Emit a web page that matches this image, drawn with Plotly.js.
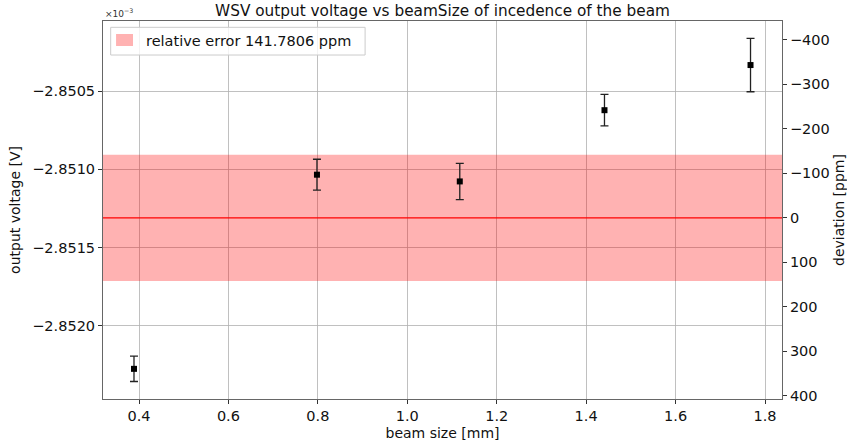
<!DOCTYPE html>
<html><head><meta charset="utf-8">
<script src="https://cdn.plot.ly/plotly-3.0.1.min.js"></script>
<style>body{margin:0;background:#fff}#c{width:847px;height:444px}</style>
</head><body><div id="c"></div>
<script>
// data (voltage in units of 1e-3 V)
const beamSize = [0.3888, 0.798, 1.1174, 1.441, 1.7676];
const voltage = [-2.852277, -2.851034, -2.851077, -2.850621, -2.850332];
const voltErr = [0.000081, 0.000099, 0.000116, 0.000101, 0.000171];
const meanVoltage = -2.85131;
const relErrPpm = 141.7806;
const xRange = [0.3195, 1.838];
const yRange = [-2.85247, -2.85005];
const yTicks = [-2.8520, -2.8515, -2.8510, -2.8505];
const ppmTicks = [-400, -300, -200, -100, 0, 100, 200, 300, 400];

const toPpm = v => (v - meanVoltage) / meanVoltage * 1e6;
const bandLo = meanVoltage * (1 - relErrPpm * 1e-6);
const bandHi = meanVoltage * (1 + relErrPpm * 1e-6);
const font = 'DejaVu Sans, sans-serif';
const fs = 14.5;
const bandColor = 'rgba(255,0,0,0.3)';

const traces = [
  {x: [xRange[0], xRange[1], xRange[1], xRange[0], xRange[0]],
   y: [bandLo, bandLo, bandHi, bandHi, bandLo],
   type: 'scatter', mode: 'none', fill: 'toself', fillcolor: bandColor,
   name: 'relative error ' + relErrPpm + ' ppm', hoverinfo: 'skip', showlegend: false},
  {x: xRange, y: [meanVoltage, meanVoltage], type: 'scatter', mode: 'lines',
   line: {color: 'red', width: 1.2}, showlegend: false},
  {x: beamSize, y: voltage, type: 'scatter', mode: 'markers',
   marker: {symbol: 'square', size: 6, color: 'black'},
   error_y: {type: 'data', array: voltErr, visible: true, color: '#222', thickness: 1.3, width: 4},
   showlegend: false},
  {x: [xRange[0]], y: [0], yaxis: 'y2', type: 'scatter', mode: 'markers',
   marker: {opacity: 0}, showlegend: false, hoverinfo: 'skip'}
];

const axCommon = {
  showline: true, linecolor: '#666', linewidth: 1, ticks: 'outside', ticklen: 4,
  tickcolor: '#333', tickfont: {family: font, size: fs, color: '#111'}, zeroline: false
};

const layout = {
  width: 847, height: 444,
  margin: {l: 103, r: 65, t: 21, b: 45},
  paper_bgcolor: '#fff', plot_bgcolor: '#fff',
  font: {family: font, color: '#111'},
  title: {text: 'WSV output voltage vs beamSize of incedence of the beam',
    font: {family: font, size: 15.3, color: '#111'}, x: 0.5, xref: 'paper', y: 0.975, yanchor: 'middle'},
  xaxis: Object.assign({}, axCommon, {range: xRange, tickvals: [0.4,0.6,0.8,1.0,1.2,1.4,1.6,1.8],
    tickformat: '.1f', showgrid: true, gridcolor: '#b0b0b0', gridwidth: 0.8, mirror: true,
    title: {text: 'beam size [mm]', font: {family: font, size: 14, color: '#111'}, standoff: 4}}),
  yaxis: Object.assign({}, axCommon, {range: yRange, tickvals: yTicks, tickformat: '.4f',
    showgrid: true, gridcolor: '#b0b0b0', gridwidth: 0.8,
    title: {text: 'output voltage [V]', font: {family: font, size: 14, color: '#111'}, standoff: 8}}),
  yaxis2: Object.assign({}, axCommon, {overlaying: 'y', side: 'right',
    range: [toPpm(yRange[0]), toPpm(yRange[1])], tickvals: ppmTicks, showgrid: false,
    title: {text: 'deviation [ppm]', font: {family: font, size: 14, color: '#111'}, standoff: 6}}),
  showlegend: false,
  shapes: [
    {type: 'rect', xref: 'paper', yref: 'paper', x0: 0.0113, x1: 0.386, y0: 0.910, y1: 0.9833,
     fillcolor: 'rgba(255,255,255,0.8)', line: {color: '#cccccc', width: 1}, layer: 'above'},
    {type: 'rect', xref: 'paper', yref: 'paper', x0: 0.0192, x1: 0.0442, y0: 0.9339, y1: 0.9656,
     fillcolor: bandColor, line: {width: 0}, layer: 'above'}
  ],
  annotations: [
    {text: '×10<sup>−3</sup>', xref: 'paper', yref: 'paper', x: 0, y: 1,
     xanchor: 'left', yanchor: 'bottom', showarrow: false,
     font: {family: font, size: 9, color: '#333'}},
    {text: 'relative error ' + relErrPpm + ' ppm', xref: 'paper', yref: 'paper', x: 0.0604, y: 0.9484,
     xanchor: 'left', yanchor: 'middle', showarrow: false,
     font: {family: font, size: fs, color: '#111'}}
  ]
};

Plotly.newPlot('c', traces, layout, {staticPlot: true});
</script></body></html>
